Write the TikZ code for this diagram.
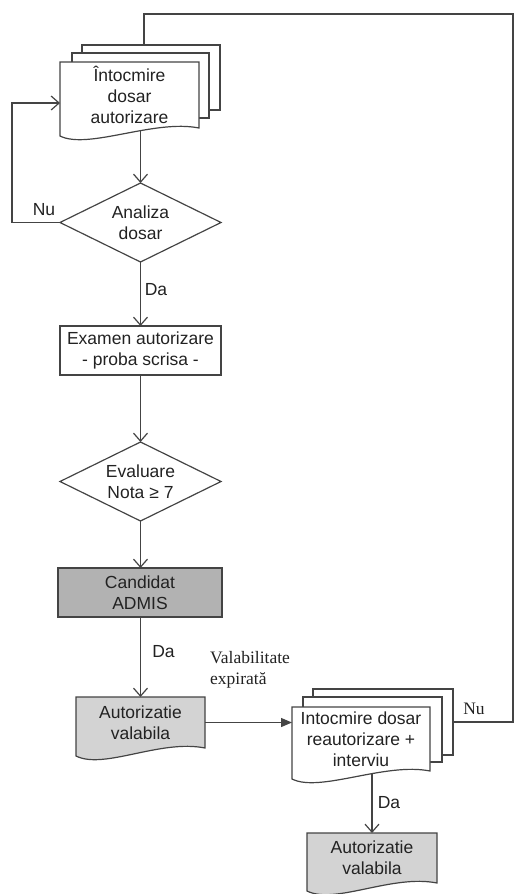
\documentclass[tikz,border=0pt]{standalone}
\usepackage{fontspec}
\setmainfont{Liberation Sans}
\newfontfamily\seriff{Liberation Serif}
\usetikzlibrary{arrows.meta,calc,backgrounds}
\definecolor{lc}{HTML}{444444}
\definecolor{tc}{HTML}{222222}
\definecolor{gdark}{HTML}{B2B2B2}
\definecolor{glight}{HTML}{D3D3D3}
\newcommand\mydocshape[2]{%
  \draw[line, fill=#2] (#1.south east) -- (#1.north east) -- (#1.north west) --
    ([yshift=-8pt]#1.south west) .. controls +(28,14) and +(-45,-9) .. (#1.south east) -- cycle;}
\begin{document}
\begin{tikzpicture}[x=1pt,y=-1pt,
  line/.style={draw=lc, line width=1.2pt},
  arr/.style={line, -{Straight Barb[length=8pt,width=14pt]}},
  farr/.style={line, -{Triangle[length=11pt,width=9pt]}},
  txt/.style={font=\fontsize{17.5}{21}\selectfont, text=tc, align=center},
  slot/.style={txt, inner sep=0pt, outer sep=0pt},
  page/.style={line, fill=white, inner sep=0pt, outer sep=0pt},
  lbl/.style={font=\fontsize{17.5}{21}\selectfont, text=tc, inner sep=0pt},
  slbl/.style={font=\seriff\fontsize{17.5}{21}\selectfont, text=tc, inner sep=0pt, align=left}
]
\useasboundingbox (0,0) rectangle (515,894);

% first document stack
\node[slot, minimum width=139pt, minimum height=66pt] (d1) at (129.5,95) {Întocmire\\dosar\\autorizare};
% decision 1
\node[slot, minimum width=161pt, minimum height=79pt] (an) at (140.5,222.5) {Analiza\\dosar};
\draw[line] (an.north) -- (an.east) -- (an.south) -- (an.west) -- cycle;
% exam
\node[slot, line, minimum width=161pt, minimum height=49pt] (ex) at (140.5,350.5) {Examen autorizare\\- proba scrisa -};
% decision 2
\node[slot, minimum width=161pt, minimum height=79pt] (ev) at (140.5,481.5) {Evaluare\\Nota ≥ 7};
\draw[line] (ev.north) -- (ev.east) -- (ev.south) -- (ev.west) -- cycle;
% admis
\node[slot, line, fill=gdark, minimum width=164pt, minimum height=49pt] (ca) at (140,592.5) {Candidat\\ADMIS};
% autorizatie 1
\node[slot, minimum width=129pt, minimum height=51pt] (a1) at (140.5,722.5) {Autorizatie\\valabila};
% second document stack
\node[slot, minimum width=138pt, minimum height=64pt] (d2) at (361,739) {Intocmire dosar\\reautorizare +\\interviu};
% autorizatie 2
\node[slot, minimum width=130pt, minimum height=50pt] (a2) at (372,858) {Autorizatie\\valabila};

\begin{pgfonlayer}{background}
  \node[page, minimum width=138pt, minimum height=65pt] (d1c) at (151,77.5) {};
  \node[page, minimum width=137pt, minimum height=65pt] (d1b) at (140.5,85.5) {};
  \mydocshape{d1}{white}
  \node[page, minimum width=140pt, minimum height=66pt] (d2c) at (383,722) {};
  \node[page, minimum width=139pt, minimum height=65pt] (d2b) at (372.5,729.5) {};
  \mydocshape{d2}{white}
  \mydocshape{a1}{glight}
  \mydocshape{a2}{glight}
\end{pgfonlayer}

% connectors
\draw[arr] ([yshift=-3pt]an.north |- d1.south) -- (an.north);
\draw[arr] (an.west) -- ++(-48,0) |- ([yshift=-8pt]d1.west);
\draw[arr] (an.south) -- (ex.north);
\draw[arr] (ex.south) -- (ev.north);
\draw[arr] (ev.south) -- (ev.south |- ca.north);
\draw[arr] (a1.north |- ca.south) -- (a1.north);
\draw[farr] (a1.east) -- (a1.east -| d2.west);
\draw[arr] ([yshift=-3pt]a2.north |- d2.south) -- (a2.north);
\coordinate (rc) at (513,14);
\draw[line] (d2c.east) -| (rc) -| ([xshift=-7pt]d1c.north);

% labels
\node[lbl] (nu1) at (44,210) {Nu};
\node[lbl] (da1) at (156,290) {Da};
\node[lbl] (da2) at (163.5,652) {Da};
\node[lbl] (da3) at (389,803) {Da};
\node[slbl] (nu2) at (474,709) {Nu};
\node[slbl, anchor=west] (vx) at (210,669.5) {Valabilitate\\expirată};
\end{tikzpicture}
\end{document}
